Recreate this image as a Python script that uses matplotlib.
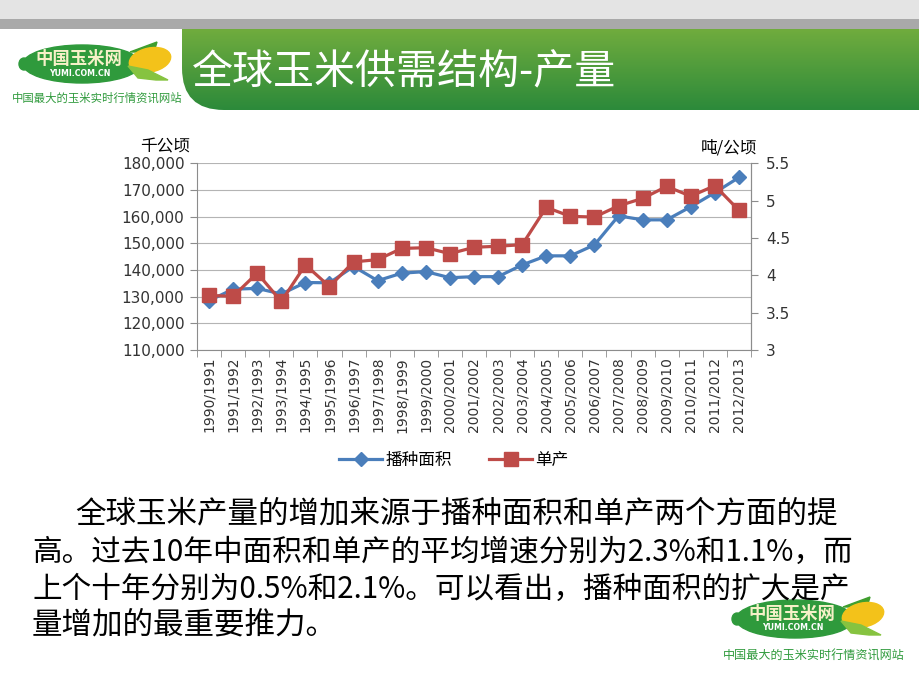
import numpy as np
import matplotlib
matplotlib.use("Agg")
import matplotlib.pyplot as plt
from matplotlib.patches import Ellipse, Rectangle, PathPatch, Polygon
from matplotlib.path import Path
from matplotlib.lines import Line2D

plt.rcParams['font.family'] = ['Noto Sans CJK SC', 'DejaVu Sans']

seasons = ['1990/1991', '1991/1992', '1992/1993', '1993/1994', '1994/1995',
           '1995/1996', '1996/1997', '1997/1998', '1998/1999', '1999/2000',
           '2000/2001', '2001/2002', '2002/2003', '2003/2004', '2004/2005',
           '2005/2006', '2006/2007', '2007/2008', '2008/2009', '2009/2010',
           '2010/2011', '2011/2012', '2012/2013']
# 播种面积 (千公顷)
area = [128500, 132800, 133100, 131000, 135300, 135200, 141300, 136000,
        138800, 139400, 137100, 137500, 137500, 141900, 145300, 145300,
        149400, 160300, 158800, 158800, 163700, 169000, 174700]
# 单产 (吨/公顷)
yld = [3.73, 3.72, 4.03, 3.65, 4.14, 3.85, 4.18, 4.21, 4.36, 4.37, 4.29,
       4.375, 4.39, 4.41, 4.91, 4.79, 4.78, 4.93, 5.03, 5.19, 5.06, 5.20, 4.87]

body_lines = ['全球玉米产量的增加来源于播种面积和单产两个方面的提',
              '高。过去10年中面积和单产的平均增速分别为2.3%和1.1%，而',
              '上个十年分别为0.5%和2.1%。可以看出，播种面积的扩大是产',
              '量增加的最重要推力。']

W, H = 920, 690
fig = plt.figure(figsize=(W / 100, H / 100), dpi=100)
fig.patch.set_facecolor('white')

# slide background / decoration, pixel coordinates
bg = fig.add_axes([0, 0, 1, 1], zorder=0)
bg.set_xlim(0, W)
bg.set_ylim(H, 0)
bg.axis('off')

bg.add_patch(Rectangle((0, 0), W, 19, color='#e4e4e4', lw=0))
bg.add_patch(Rectangle((0, 19), W, 10, color='#a9a9a9', lw=0))

# green title band with rounded lower-left corner
verts = [(182, 29), (W, 29), (W, 110), (224, 110), (182, 110), (182, 68), (182, 29)]
codes = [Path.MOVETO, Path.LINETO, Path.LINETO, Path.LINETO, Path.CURVE3,
         Path.CURVE3, Path.CLOSEPOLY]
band = PathPatch(Path(verts, codes), facecolor='none', edgecolor='none')
bg.add_patch(band)
top = np.array([112, 172, 62]) / 255
bot = np.array([44, 138, 58]) / 255
t = np.linspace(0, 1, 100)[:, None, None]
grad = top * (1 - t) + bot * t
grad = np.repeat(grad, 2, axis=1)
im = bg.imshow(grad, extent=(182, W, 110, 29), aspect='auto', origin='upper', zorder=1)
im.set_clip_path(band)
bg.set_xlim(0, W)
bg.set_ylim(H, 0)

bg.text(192, 73, '全球玉米供需结构-产量', color='white', fontsize=29.5,
        va='center', ha='left', zorder=3)


def draw_logo(cx, cy, tag_x, tag_y, tag_size):
    green = '#2f9a3c'
    bg.add_patch(Ellipse((cx, cy), 118, 38, color=green, zorder=2))
    bg.add_patch(Ellipse((cx - 58, cy), 10, 12, color=green, zorder=2))
    # corn cob with husk leaves
    bg.add_patch(Polygon([(cx + 48, cy - 12), (cx + 75, cy - 22), (cx + 72, cy - 12)],
                         closed=True, color='#3f9e2e', zorder=2))
    bg.add_patch(Ellipse((cx + 68, cy - 4), 42, 24, angle=-12, color='#f3c21a', zorder=3))
    bg.add_patch(Polygon([(cx + 46, cy + 2), (cx + 66, cy + 6), (cx + 86, cy + 16),
                          (cx + 74, cy + 16), (cx + 56, cy + 14)],
                         closed=True, color='#86c340', zorder=4))
    bg.text(cx - 3, cy - 5, '中国玉米网', color='#f6f1c8', fontsize=12.5,
            fontweight='bold', ha='center', va='center', zorder=5)
    bg.text(cx - 2, cy + 9, 'YUMI.COM.CN', color='white', fontsize=5.7,
            fontweight='bold', ha='center', va='center', zorder=5,
            family=['DejaVu Sans'])
    bg.text(tag_x, tag_y, '中国最大的玉米实时行情资讯网站', color=green,
            fontsize=tag_size, ha='center', va='center', zorder=5)


draw_logo(82, 64, 97, 98, 8.2)
draw_logo(795, 619, 814, 656, 8.7)

# body text
line_x = [75, 32, 32, 32]
line_y = [514, 552, 589, 625]
line_size = [22, 21.3, 21.3, 22]
for s, lx, ly, fs in zip(body_lines, line_x, line_y, line_size):
    bg.text(lx, ly, s, fontsize=fs, color='black', ha='left', va='center')

# chart
ax = fig.add_axes([197 / W, 1 - 350 / H, 554 / W, 186.7 / H], zorder=2)
ax.patch.set_alpha(0)
x = np.arange(len(seasons))
ax.plot(x, area, color='#4a7ebb', lw=2.3, marker='D', ms=7, zorder=3)
ax.set_xlim(-0.5, len(seasons) - 0.5)
ax.set_ylim(110000, 180000)
ax.set_yticks(np.arange(110000, 180001, 10000))
ax.set_yticklabels([f'{v:,}' for v in range(110000, 180001, 10000)],
                   family=['DejaVu Sans'], fontsize=11, color='#333333')
ax.set_xticks(x)
ax.set_xticklabels(seasons, rotation=90, family=['DejaVu Sans'], fontsize=10,
                   color='#333333')
ax.set_xticks(np.arange(-0.5, len(seasons)), minor=True)
ax.tick_params(axis='x', which='major', length=0, pad=5)
ax.tick_params(axis='x', which='minor', length=5, color='#8c8c8c')
ax.tick_params(axis='y', length=5, color='#8c8c8c', pad=4)
ax.grid(axis='y', color='#b4b4b4', lw=0.8)
ax.set_axisbelow(True)
for sp in ['left', 'bottom', 'right']:
    ax.spines[sp].set_color('#8c8c8c')
ax.spines['top'].set_visible(False)

ax2 = ax.twinx()
ax2.plot(x, yld, color='#be4b48', lw=2.3, marker='s', ms=10, zorder=3)
ax2.set_ylim(3, 5.5)
ax2.set_yticks(np.arange(3, 5.51, 0.5))
ax2.set_yticklabels([f'{v:g}' for v in np.arange(3, 5.51, 0.5)],
                    family=['DejaVu Sans'], fontsize=11, color='#333333')
ax2.tick_params(axis='y', length=5, color='#8c8c8c', pad=6)
for sp in ['left', 'bottom', 'top']:
    ax2.spines[sp].set_visible(False)
ax2.spines['right'].set_color('#8c8c8c')

fig.text(165 / W, 1 - 147 / H, '千公顷', fontsize=12, ha='center', va='center')
fig.text(729 / W, 1 - 148 / H, '吨/公顷', fontsize=12, ha='center', va='center')

handles = [Line2D([], [], color='#4a7ebb', lw=2.3, marker='D', ms=7),
           Line2D([], [], color='#be4b48', lw=2.3, marker='s', ms=10)]
fig.legend(handles, ['播种面积', '单产'], loc='center',
           bbox_to_anchor=(454 / W, 1 - 460 / H), ncol=2, frameon=False,
           fontsize=12, handlelength=2.6, columnspacing=2.2, handletextpad=0.2)

fig.savefig('out.png', dpi=100)
